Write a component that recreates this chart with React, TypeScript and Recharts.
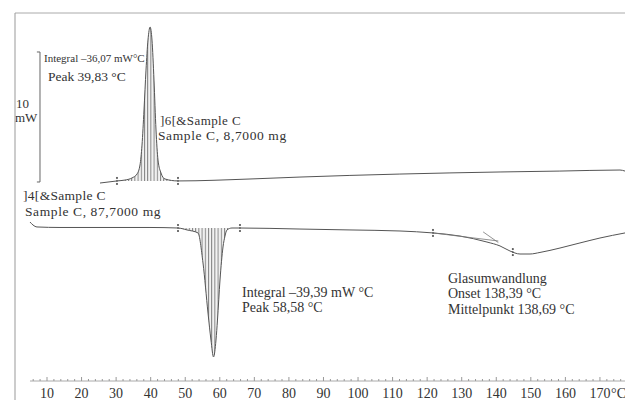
import React from "react";
import {
  ComposedChart,
  Line,
  Area,
  Scatter,
  XAxis,
  YAxis,
  ReferenceLine,
} from "recharts";

// ---- data (temperature in °C, heat flow in mW, relative) ----
const upperT = [25.34, 30.25, 32.57, 34.59, 36.04, 36.91, 37.49, 38.07, 38.65, 39.22, 39.83, 40.38, 40.96, 41.54, 42.12, 42.99, 44.14, 47.91, 68.74, 83.2, 112.1, 141.1, 158.4, 175.8, 177.25];
const upperMW = [3.46, 3.62, 3.69, 3.85, 4.15, 4.85, 6.38, 9.08, 12.15, 14.46, 15.46, 14.46, 11.38, 7.54, 5.23, 4.23, 3.77, 3.62, 3.77, 3.92, 4.15, 4.31, 4.38, 4.46, 4.38];

const lowerT = [5.08, 5.95, 7.11, 13.76, 25.34, 39.8, 47.91, 50.51, 53.69, 55.14, 56.59, 57.45, 58.18, 58.9, 59.33, 60.06, 60.93, 61.5, 62.08, 63.53, 65.84, 83.2, 97.67, 112.14, 121.69, 129.5, 137.31, 141.08, 143.97, 146.86, 149.76, 152.65, 158.44, 164.22, 170.01, 177.25];
const lowerMW = [0.46, 0.23, 0.08, 0.04, 0.04, 0.04, 0, -0.15, -0.38, -2.69, -6.54, -8.62, -9.92, -8.62, -7.08, -4.0, -1.46, -0.62, -0.15, 0, 0, -0.08, -0.15, -0.23, -0.38, -0.62, -1.08, -1.38, -1.77, -2.0, -2.0, -1.88, -1.54, -1.15, -0.77, -0.38];

// integration limits and baselines
const upperLimits = [30.25, 47.91];
const upperBase = 3.62;
const lowerLimits = [47.91, 65.84];
const lowerBase = 0;

// evaluation markers
const markerT = [30.25, 47.91, 47.91, 65.84, 121.69, 144.8];
const markerMW = [3.62, 3.62, 0, 0, -0.38, -1.85];

// glass transition construction lines
const tangentAT = [121.69, 140.6];
const tangentAMW = [-0.38, -1.0];
const tangentBT = [136.2, 140.6];
const tangentBMW = [-0.3, -1.12];

// 10 mW scale bar
const scaleT = 7.97;
const scaleMW = [3.54, 13.54];

const majorTicks = [10, 20, 30, 40, 50, 60, 70, 80, 90, 100, 110, 120, 130, 140, 150, 160, 170];
const minorTicks = Array.from({ length: 86 }, (_, i) => 6 + 2 * i);

const xDomain = [0.74, 177.25];
const yDomain = [-11.77, 16.54];

const upperData = upperT.map((t, i) => ({ t, mw: upperMW[i] }));
const lowerData = lowerT.map((t, i) => ({ t, mw: lowerMW[i] }));
const upperHatch = upperData
  .filter((d) => d.t >= upperLimits[0] && d.t <= upperLimits[1])
  .map((d) => ({ t: d.t, band: [upperBase, d.mw] }));
const lowerHatch = lowerData
  .filter((d) => d.t >= lowerLimits[0] && d.t <= lowerLimits[1])
  .map((d) => ({ t: d.t, band: [d.mw, lowerBase] }));
const markers = markerT.map((t, i) => ({ t, mw: markerMW[i] }));
const tangentA = tangentAT.map((t, i) => ({ t, mw: tangentAMW[i] }));
const tangentB = tangentBT.map((t, i) => ({ t, mw: tangentBMW[i] }));

const FONT = '"Liberation Serif", "DejaVu Serif", serif';
const LINE = "#555";
const TXT = "#333";

const Tick = (props: any) => {
  const { x, y, payload } = props;
  const v = payload.value as number;
  const major = majorTicks.includes(v);
  return (
    <g>
      <line x1={x} x2={x} y1={y} y2={y - (v % 10 === 0 ? 4 : 2)} stroke="#999" strokeWidth={1} />
      {major && (
        <text x={x} y={y + 17} textAnchor="middle" fontFamily={FONT} fontSize={14} fill={TXT}>
          {v}
        </text>
      )}
      {v === 176 && (
        <text x={626} y={y + 17} textAnchor="end" fontFamily={FONT} fontSize={14} fill={TXT}>
          °C
        </text>
      )}
    </g>
  );
};

const MarkerShape = (props: any) => {
  const { cx, cy } = props;
  return (
    <g>
      <line x1={cx} x2={cx} y1={cy - 4} y2={cy + 4} stroke="#444" strokeWidth={1} strokeDasharray="2 1" />
      <line x1={cx - 1} x2={cx + 1} y1={cy - 3} y2={cy - 3} stroke="#444" strokeWidth={1} />
      <line x1={cx - 1} x2={cx + 1} y1={cy + 3} y2={cy + 3} stroke="#444" strokeWidth={1} />
    </g>
  );
};

const T = (p: { x: number; y: number; s?: number; ls?: number; children: React.ReactNode }) => (
  <text x={p.x} y={p.y} fontFamily={FONT} fontSize={p.s ?? 14} letterSpacing={p.ls ?? 0} fill={TXT}>
    {p.children}
  </text>
);

export default function App() {
  return (
    <div style={{ position: "absolute", left: 0, top: 0, width: 625, height: 400, background: "#fff" }}>
      <ComposedChart width={625} height={400} margin={{ top: 13, right: 0, bottom: 0, left: 15 }}>
        <defs>
          <pattern id="hatch" width="3.2" height="6" patternUnits="userSpaceOnUse">
            <rect x="0" y="0" width="3.2" height="6" fill="#f2f2f2" />
            <line x1="0.5" y1="0" x2="0.5" y2="6" stroke="#777" strokeWidth="0.9" />
          </pattern>
        </defs>
        <XAxis
          type="number"
          dataKey="t"
          domain={xDomain}
          allowDataOverflow
          ticks={minorTicks}
          interval={0}
          tick={<Tick />}
          tickLine={false}
          axisLine={false}
          tickSize={0}
          tickMargin={0}
          height={19}
        />
        <YAxis type="number" domain={yDomain} allowDataOverflow hide />

        {/* frame and axis line */}
        <ReferenceLine segment={[{ x: xDomain[0], y: yDomain[1] }, { x: xDomain[1], y: yDomain[1] }]} stroke="#aaa" ifOverflow="visible" />
        <ReferenceLine segment={[{ x: xDomain[0], y: yDomain[1] }, { x: xDomain[0], y: -13.3 }]} stroke="#999" ifOverflow="visible" />
        <ReferenceLine segment={[{ x: 5.08, y: yDomain[0] }, { x: xDomain[1], y: yDomain[0] }]} stroke="#aaa" ifOverflow="visible" />

        {/* 10 mW scale bar */}
        <ReferenceLine segment={[{ x: scaleT, y: scaleMW[0] }, { x: scaleT, y: scaleMW[1] }]} stroke="#666" ifOverflow="visible" />
        <ReferenceLine segment={[{ x: scaleT - 0.9, y: scaleMW[1] }, { x: scaleT, y: scaleMW[1] }]} stroke="#666" ifOverflow="visible" />
        <ReferenceLine segment={[{ x: scaleT - 0.9, y: scaleMW[0] }, { x: scaleT, y: scaleMW[0] }]} stroke="#666" ifOverflow="visible" />

        <Area data={upperHatch} dataKey="band" type="monotone" stroke="none" fill="url(#hatch)" fillOpacity={1} isAnimationActive={false} />
        <Area data={lowerHatch} dataKey="band" type="monotone" stroke="none" fill="url(#hatch)" fillOpacity={1} isAnimationActive={false} />

        <Line data={upperData} dataKey="mw" type="monotone" stroke={LINE} strokeWidth={1} dot={false} isAnimationActive={false} />
        <Line data={lowerData} dataKey="mw" type="monotone" stroke={LINE} strokeWidth={1} dot={false} isAnimationActive={false} />
        <Line data={tangentA} dataKey="mw" type="linear" stroke="#777" strokeWidth={0.8} dot={false} isAnimationActive={false} />
        <Line data={tangentB} dataKey="mw" type="linear" stroke="#777" strokeWidth={0.8} dot={false} isAnimationActive={false} />

        <Scatter data={markers} dataKey="mw" shape={<MarkerShape />} isAnimationActive={false} />

        <g>
          <T x={44} y={62} s={11}>Integral –36,07 mW°C</T>
          <T x={48} y={81} s={13.5}>Peak 39,83 °C</T>
          <T x={16} y={108} s={13}>10</T>
          <T x={15} y={122} s={13}>mW</T>
          <T x={160} y={125} s={13} ls={0.4}>]6[&amp;Sample C</T>
          <T x={158} y={140} s={13.5} ls={0.6}>Sample C, 8,7000 mg</T>
          <T x={23} y={200} s={13.5} ls={0.3}>]4[&amp;Sample C</T>
          <T x={25} y={216} s={13.5} ls={0.6}>Sample C, 87,7000 mg</T>
          <T x={242} y={297}>Integral –39,39 mW °C</T>
          <T x={242} y={312}>Peak 58,58 °C</T>
          <T x={448} y={283}>Glasumwandlung</T>
          <T x={448} y={298}>Onset 138,39 °C</T>
          <T x={448} y={314}>Mittelpunkt 138,69 °C</T>
        </g>
      </ComposedChart>
    </div>
  );
}
